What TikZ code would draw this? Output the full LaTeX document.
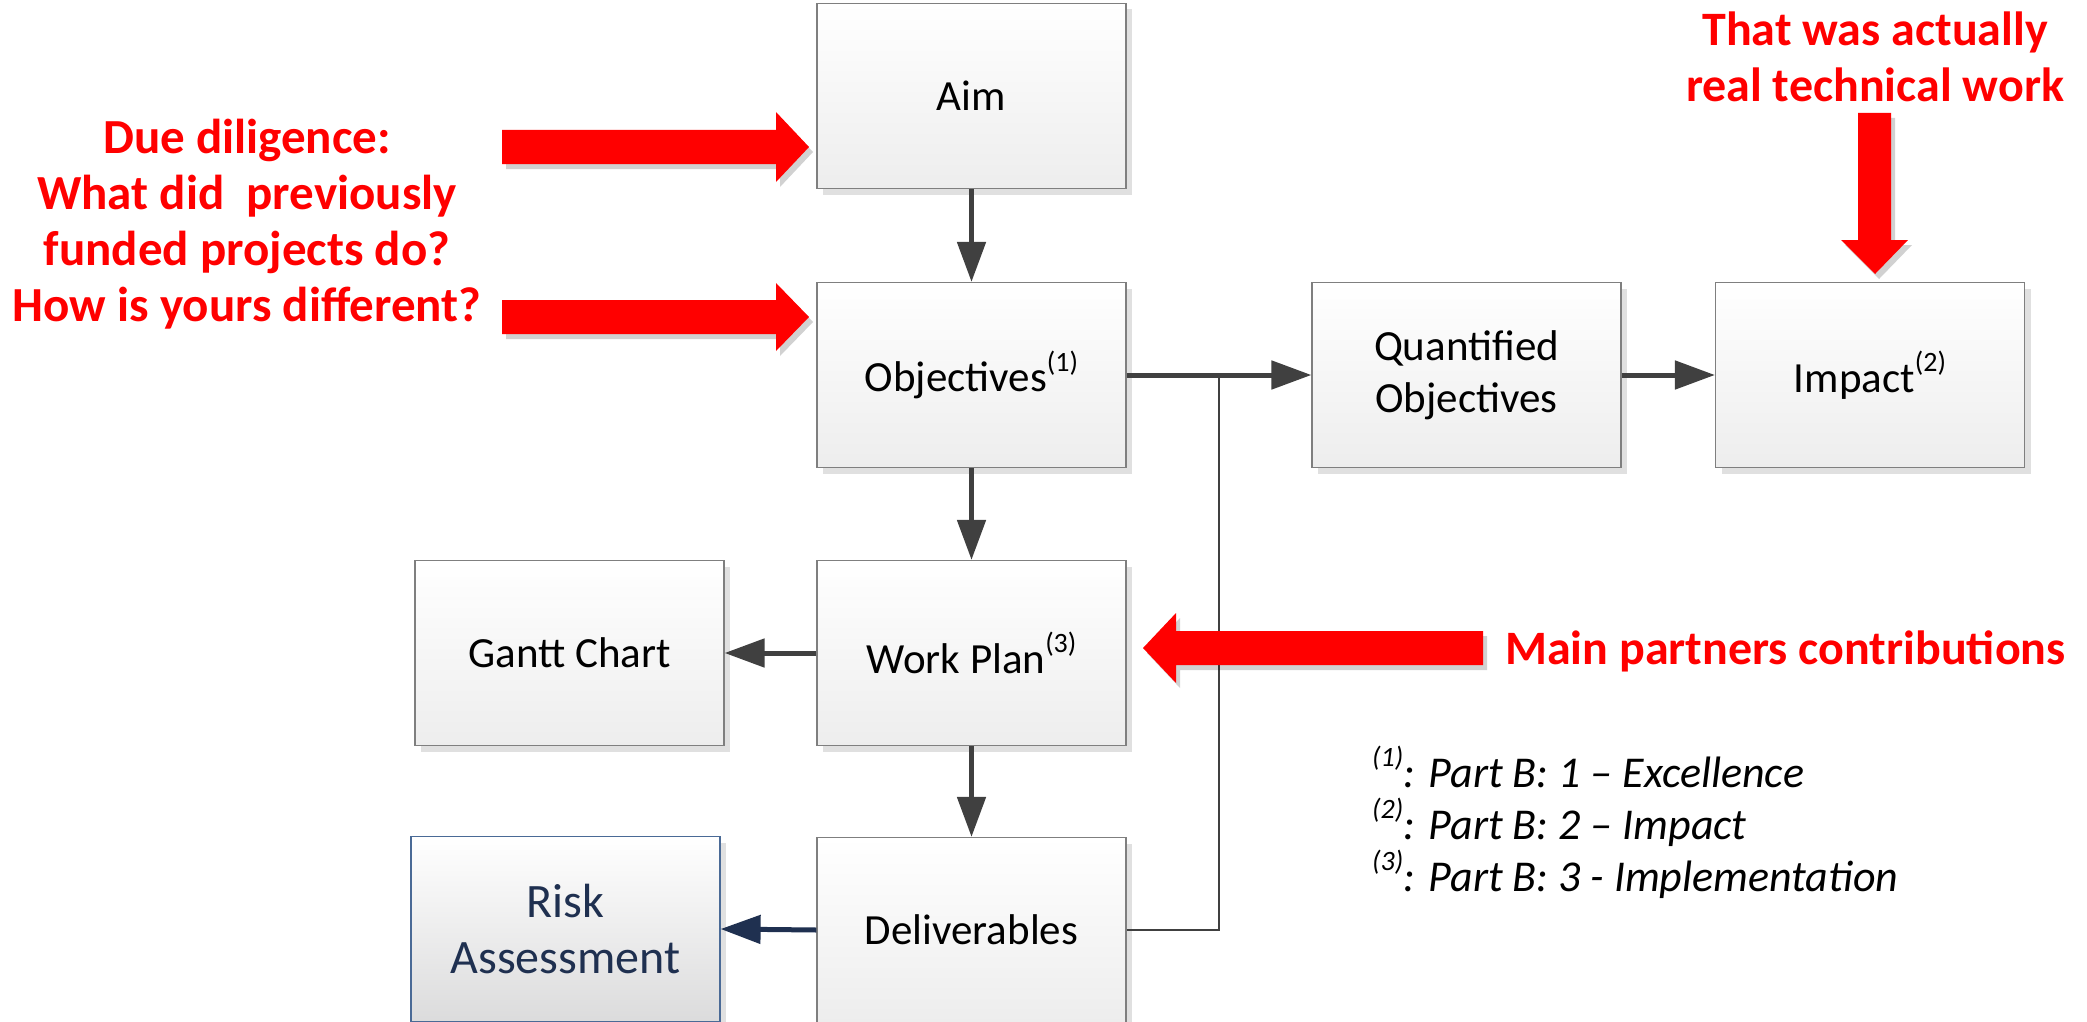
\documentclass[tikz,border=0pt]{standalone}
\usepackage{fontspec}
\setmainfont{Carlito}
\usetikzlibrary{arrows.meta,shadows,calc}
\definecolor{conn}{HTML}{404040}
\definecolor{navy}{HTML}{1F3050}
\definecolor{boxline}{HTML}{7F7F7F}
\definecolor{riskline}{HTML}{4A6A96}
\definecolor{redx}{HTML}{FF0000}
\newcommand\supr[1]{\raisebox{1.0ex}{\fontsize{28}{28}\selectfont #1}}
\begin{document}
\begin{tikzpicture}[x=1pt,y=-1pt,
  box/.style={draw=boxline, line width=1.2pt, minimum width=309pt, minimum height=185pt,
    top color=white, bottom color=black!7, align=center, inner sep=0pt,
    font=\fontsize{43}{52}\selectfont,
    drop shadow={shadow xshift=6pt, shadow yshift=-6pt, fill=black!12, opacity=1}},
  riskbox/.style={box, draw=riskline, top color=white, bottom color=black!4!blue!2!black!14,
    text=navy, font=\fontsize{48}{56}\selectfont},
  conn/.style={draw=conn, line width=5pt, -{Triangle[length=40pt,width=28pt]}},
  thinconn/.style={draw=conn, line width=2pt},
  redarrow/.style={fill=redx},
  redshadow/.style={fill=black, opacity=0.18},
  redtext/.style={text=redx, font=\bfseries\fontsize{48}{56}\selectfont, align=center, inner sep=0pt},
]
\useasboundingbox (0,0) rectangle (2087,1022);
\fill[white] (0,0) rectangle (2087,1022);

% boxes
\node[box] (aim) at (971.5,96) {Aim};
\node[box] (obj) at (971.5,375) {Objectives\supr{(1)}};
\node[box] (wp) at (971.5,653) {Work Plan\supr{(3)}};
\node[box] (del) at (971.5,930) {Deliverables};
\node[box] (gantt) at (569.5,653) {Gantt Chart};
\node[riskbox] (risk) at (565.5,929) {Risk\\Assessment};
\node[box] (quant) at (1466.5,375) {Quantified\\Objectives};
\node[box] (impact) at (1870,375) {Impact\supr{(2)}};

% connectors
\coordinate (j) at ($(obj.east)!0.5!(quant.west)$);
\draw[thinconn] (del.east) -| (j);
\draw[conn] (aim.south) -- (obj.north);
\draw[conn] (obj.south) -- (wp.north);
\draw[conn] (wp.south) -- (del.north);
\draw[conn] (wp.west) -- (gantt.east);
\draw[conn, draw=navy] (del.west) -- (risk.east);
\draw[conn] (obj.east) -- (quant.west);
\draw[conn] (quant.east) -- (impact.west);

% red block arrows
\begin{scope}[shift={(4,5)}]
\fill[redshadow] (502,130) -- (776,130) -- (776,112) -- (809,147) -- (776,182) -- (776,164) -- (502,164) -- cycle;
\fill[redshadow] (502,300) -- (776,300) -- (776,283) -- (809,317) -- (776,351) -- (776,334) -- (502,334) -- cycle;
\fill[redshadow] (1483,631) -- (1176,631) -- (1176,613) -- (1143,648) -- (1176,683) -- (1176,665) -- (1483,665) -- cycle;
\fill[redshadow] (1858,113) -- (1858,240) -- (1841,240) -- (1875,274) -- (1908,240) -- (1891,240) -- (1891,113) -- cycle;
\end{scope}
\fill[redarrow] (502,130) -- (776,130) -- (776,112) -- (809,147) -- (776,182) -- (776,164) -- (502,164) -- cycle;
\fill[redarrow] (502,300) -- (776,300) -- (776,283) -- (809,317) -- (776,351) -- (776,334) -- (502,334) -- cycle;
\fill[redarrow] (1483,631) -- (1176,631) -- (1176,613) -- (1143,648) -- (1176,683) -- (1176,665) -- (1483,665) -- cycle;
\fill[redarrow] (1858,113) -- (1858,240) -- (1841,240) -- (1875,274) -- (1908,240) -- (1891,240) -- (1891,113) -- cycle;

% red texts
\node[redtext, font=\bfseries\fontsize{49}{56}\selectfont] (dd) at (247,224) {Due diligence:\\What did~ previously\\funded projects do?\\How is yours different?};
\node[redtext] (tech) at (1875,57) {That was actually\\real technical work};
\node[redtext, anchor=west] (mpc) at (1505,651) {Main partners contributions};

% footnotes
\node[anchor=west, align=left, inner sep=0pt, font=\itshape\fontsize{44}{52}\selectfont] (notes) at (1372,822)
  {\supr{(1)}: Part B: 1 – Excellence\\
   \supr{(2)}: Part B: 2 – Impact\\
   \supr{(3)}: Part B: 3 - Implementation};
\end{tikzpicture}
\end{document}
